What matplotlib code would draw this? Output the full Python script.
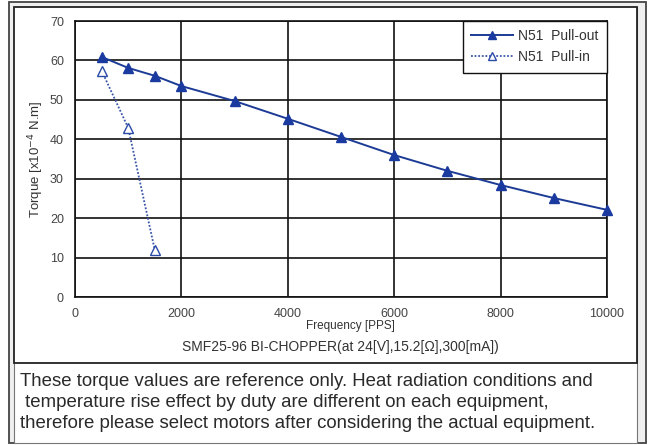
import matplotlib
matplotlib.use("Agg")
import matplotlib.pyplot as plt
from matplotlib.patches import Rectangle

plt.rcParams['font.family'] = ['Liberation Sans', 'DejaVu Sans']

pullout_freq = [500, 1000, 1500, 2000, 3000, 4000, 5000, 6000, 7000, 8000, 9000, 10000]
pullout_torque = [60.9, 58.1, 56.1, 53.5, 49.7, 45.2, 40.6, 36.0, 32.0, 28.4, 25.1, 22.1]
pullin_freq = [500, 1000, 1500]
pullin_torque = [57.4, 42.9, 11.9]
x_ticks = [0, 2000, 4000, 6000, 8000, 10000]
y_ticks = [0, 10, 20, 30, 40, 50, 60, 70]
series_labels = ["N51  Pull-out", "N51  Pull-in"]
x_label = "Frequency [PPS]"
y_label = r"Torque [x10$^{-4}$ N.m]"
subtitle = "SMF25-96 BI-CHOPPER(at 24[V],15.2[\u03a9],300[mA])"
note_lines = ["These torque values are reference only. Heat radiation conditions and",
              " temperature rise effect by duty are different on each equipment,",
              "therefore please select motors after considering the actual equipment."]

W, H = 651, 445
fig = plt.figure(figsize=(W / 100, H / 100), dpi=100)
fig.patch.set_facecolor('white')

def fx(px):
    return px / W

def fy(py):
    return 1 - py / H

# outer frame (gray band between double borders)
fig.patches.append(Rectangle((fx(9), fy(443)), fx(646) - fx(9), fy(2) - fy(443),
                             transform=fig.transFigure, facecolor='#efefef',
                             edgecolor='#444444', lw=1.3, zorder=-3))
fig.patches.append(Rectangle((fx(14), fy(443)), fx(637) - fx(14), fy(7) - fy(443),
                             transform=fig.transFigure, facecolor='white',
                             edgecolor='#777777', lw=0.8, zorder=-2))
fig.patches.append(Rectangle((fx(14), fy(363)), fx(637) - fx(14), fy(7) - fy(363),
                             transform=fig.transFigure, facecolor='white',
                             edgecolor='#222222', lw=1.3, zorder=-1))

ax = fig.add_axes([fx(75), fy(297), fx(607) - fx(75), fy(21) - fy(297)])
ax.set_zorder(2)
line_color = '#1c3b95'
ax.plot(pullout_freq, pullout_torque, color=line_color, lw=1.4, marker='^',
        markersize=6.5, markerfacecolor='#1a3aa0', markeredgecolor='#1a3aa0',
        label=series_labels[0], zorder=3, clip_on=False)
ax.plot(pullin_freq, pullin_torque, color='#3a56a8', lw=1.3, ls=(0, (1, 1)),
        marker='^', markersize=7, markerfacecolor='white',
        markeredgecolor='#2a4aa8', markeredgewidth=1.0,
        label=series_labels[1], zorder=3)

ax.set_xlim(0, 10000)
ax.set_ylim(0, 70)
ax.set_xticks(x_ticks)
ax.set_yticks(y_ticks)
ax.grid(True, color='#111111', lw=1.2)
ax.set_axisbelow(True)
for s in ax.spines.values():
    s.set_color('#111111')
    s.set_linewidth(1.2)
ax.tick_params(length=0, labelsize=9, colors='#444444', pad=8)
ax.tick_params(axis='x', pad=8)

ax.set_ylabel(y_label, fontsize=9.5, color='#333333', labelpad=3)
fig.text(fx(350), fy(326), x_label, fontsize=8.5, color='#333333', ha='center', va='center')
fig.text(fx(340), fy(347), subtitle, fontsize=10, color='#333333', ha='center', va='center')

leg = ax.legend(loc='upper right', fontsize=10, frameon=True, fancybox=False,
                framealpha=1, borderpad=0.6, handlelength=3.0, labelspacing=0.5,
                borderaxespad=0, markerscale=0.85, handletextpad=0.4)
leg.get_frame().set_edgecolor('#111111')
leg.get_frame().set_linewidth(1.0)
for t in leg.get_texts():
    t.set_color('#333333')

for i, ln in enumerate(note_lines):
    fig.text(fx(20), fy(381 + 21.5 * i), ln, fontsize=13.4, color='#2a2a2a',
             ha='left', va='center')

fig.savefig('out.png', dpi=100, facecolor=fig.get_facecolor())
